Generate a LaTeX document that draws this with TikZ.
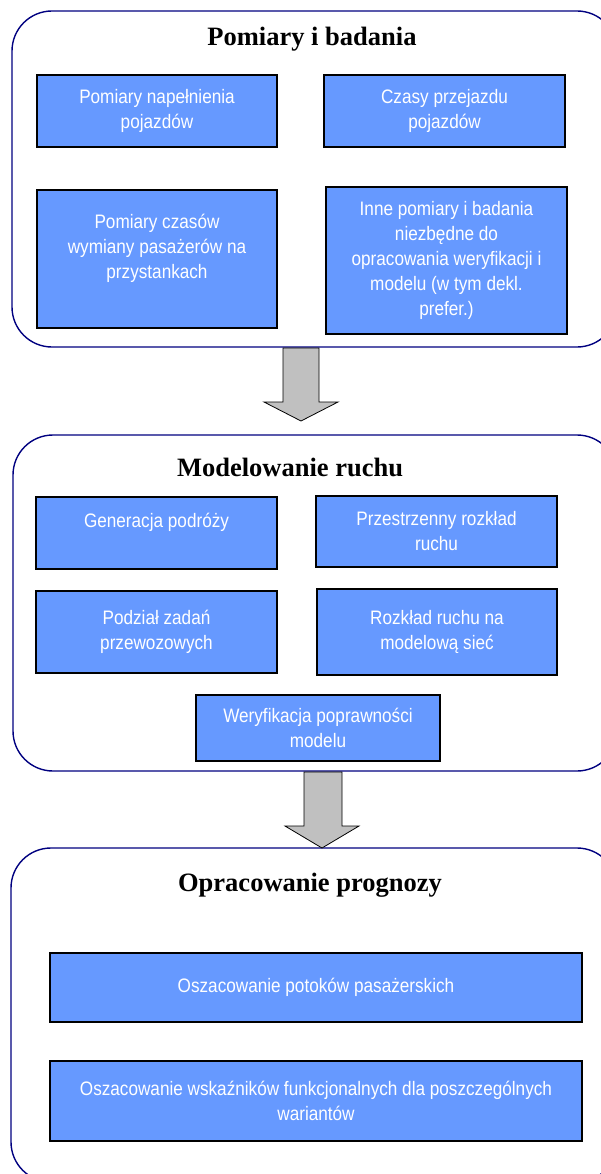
\documentclass[tikz,border=0pt]{standalone}
\usepackage{fontspec}
\setmainfont{Liberation Serif}
\newfontfamily\boxfont[FakeStretch=0.88]{Liberation Sans}
\definecolor{navyline}{RGB}{0,0,128}
\definecolor{boxblue}{RGB}{102,153,255}
\definecolor{arrowgray}{RGB}{192,192,192}
\begin{document}
\begin{tikzpicture}[x=1pt,y=-1pt,
  container/.style={draw=navyline,line width=1.4pt,rounded corners=40pt},
  title/.style={font=\bfseries\fontsize{26.5}{30}\selectfont,anchor=base,inner sep=0pt},
  stepbox/.style={draw=black,fill=boxblue,line width=1.4pt,inner sep=0pt,
    text=white,align=center,font=\boxfont\fontsize{19.5}{25}\selectfont},
  blockarrow/.style={draw=black,fill=arrowgray,line width=0.8pt,line join=miter}]
\useasboundingbox (0,0) rectangle (601,1174);
\clip (0,0) rectangle (601,1174);
\fill[white] (0,0) rectangle (601,1174);
% containers
\draw[container] (12,11) rectangle (617,347);
\draw[container] (13,435) rectangle (617,771);
\draw[container] (11,848) rectangle (617,1182);
% titles
\node[title] (t1) at (312,46) {Pomiary i badania};
\node[title] (t2) at (290,476) {Modelowanie ruchu};
\node[title] (t3) at (310,891) {Opracowanie prognozy};
% section 1
\node[stepbox,minimum width=240pt,minimum height=72pt] (b1) at (157,111) {Pomiary napełnienia\\pojazdów};
\node[stepbox,minimum width=241pt,minimum height=72pt] (b2) at (444.5,111) {Czasy przejazdu\\pojazdów};
\node[stepbox,minimum width=240pt,minimum height=138pt] (b3) at (157,259) {Pomiary czasów\\wymiany pasażerów na\\przystankach\\\mbox{}};
\node[stepbox,minimum width=241pt,minimum height=147pt] (b4) at (446.5,260.5) {Inne pomiary i badania\\niezbędne do\\opracowania weryfikacji i\\modelu (w tym dekl.\\prefer.)};
% section 2
\node[stepbox,minimum width=241pt,minimum height=72pt] (g) at (156.5,533) {Generacja podróży\\\mbox{}};
\node[stepbox,minimum width=241pt,minimum height=71pt] (p) at (436.5,531.5) {Przestrzenny rozkład\\ruchu};
\node[stepbox,minimum width=241pt,minimum height=82pt] (pd) at (156.5,632) {Podział zadań\\przewozowych};
\node[stepbox,minimum width=240pt,minimum height=86pt] (r) at (437,632) {Rozkład ruchu na\\modelową sieć};
\node[stepbox,minimum width=244pt,minimum height=66pt] (w) at (318,728) {Weryfikacja poprawności\\modelu};
% section 3
\node[stepbox,minimum width=532pt,minimum height=69pt] (o1) at (316,987.5) {Oszacowanie potoków pasażerskich};
\node[stepbox,minimum width=532pt,minimum height=80pt] (o2) at (316,1101) {Oszacowanie wskaźników funkcjonalnych dla poszczególnych\\wariantów};
% block arrows
\draw[blockarrow] (283,348) -- (319,348) -- (319,402) -- (338,402) -- (301,421) -- (264,402) -- (283,402) -- cycle;
\draw[blockarrow] (304,772) -- (342,772) -- (342,826) -- (359,826) -- (322,848) -- (285,826) -- (304,826) -- cycle;
\end{tikzpicture}
\end{document}
